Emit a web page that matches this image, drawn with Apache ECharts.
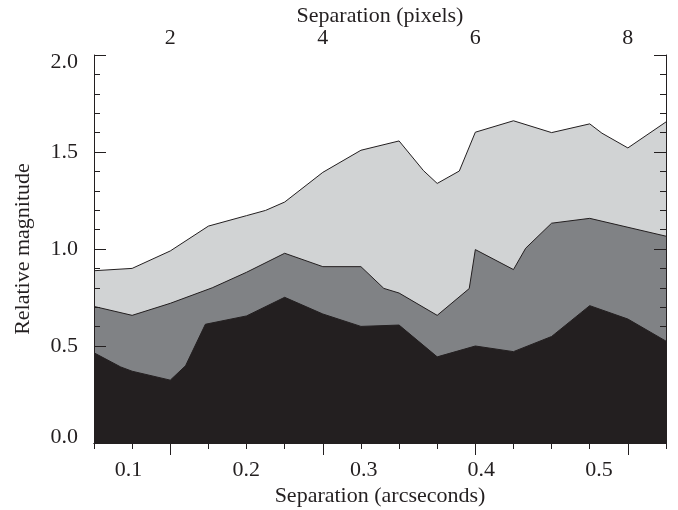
<!DOCTYPE html>
<html>
<head>
<meta charset="utf-8">
<script src="https://cdn.jsdelivr.net/npm/echarts@6/dist/echarts.min.js"></script>
<style>
html,body{margin:0;padding:0;background:#fff;}
#chart{width:678px;height:510px;}
</style>
</head>
<body>
<div id="chart"></div>
<script>
// Separation in pixels (top axis) vs relative magnitude
var upperCurve = [[1.0,0.888],[1.5,0.90],[2.0,0.99],[2.5,1.118],[3.0,1.172],[3.25,1.199],[3.5,1.242],[4.0,1.395],[4.5,1.509],[5.0,1.557],[5.32,1.404],[5.5,1.338],[5.79,1.402],[6.0,1.602],[6.5,1.661],[7.0,1.60],[7.5,1.645],[7.66,1.597],[8.0,1.521],[8.5,1.655]];
var middleCurve = [[1.0,0.704],[1.5,0.658],[2.0,0.72],[2.55,0.80],[3.0,0.88],[3.5,0.978],[4.0,0.909],[4.5,0.909],[4.8,0.797],[5.0,0.773],[5.5,0.658],[5.92,0.796],[6.0,0.997],[6.5,0.894],[6.66,1.004],[7.0,1.133],[7.5,1.158],[8.5,1.066]];
var lowerCurve = [[1.0,0.465],[1.35,0.392],[1.5,0.37],[2.0,0.324],[2.2,0.398],[2.46,0.612],[3.0,0.655],[3.5,0.751],[4.0,0.665],[4.5,0.601],[5.0,0.608],[5.5,0.444],[6.0,0.50],[6.5,0.471],[7.0,0.549],[7.5,0.708],[8.0,0.639],[8.5,0.525]];
var arcsecTicks = [0.1,0.2,0.3,0.4,0.5];
var pixelTicks = [2,4,6,8];
var arcsecRange = [0.0706, 0.557];
var pixelRange = [1.0, 8.5];
var magRange = [0, 2];

var FONT = 'Liberation Serif';
var FS = 22;
var INK = '#231f20';
var chart = echarts.init(document.getElementById('chart'), null, {renderer:'canvas'});
var gridRect = {left:94, right:12, top:55, bottom:67, containLabel:false, outerBoundsMode:'none'};
var txt = {fontFamily:FONT, fontSize:FS, color:INK};

var option = {
  backgroundColor:'#fff',
  animation:false,
  grid:[Object.assign({}, gridRect), Object.assign({}, gridRect)],
  xAxis:[
    {gridIndex:0, type:'value', position:'bottom', min:arcsecRange[0], max:arcsecRange[1], z:10,
     axisLine:{show:true, lineStyle:{color:INK, width:1}},
     axisTick:{show:true, inside:true, length:12, customValues:arcsecTicks, lineStyle:{color:INK}},
     axisLabel:{show:true, customValues:arcsecTicks, margin:16, formatter:function(v){return v.toFixed(1);}, fontFamily:FONT, fontSize:FS, color:INK},
     splitLine:{show:false},
     name:'Separation (arcseconds)', nameLocation:'middle', nameGap:42, nameMoveOverlap:false, nameTextStyle:txt},
    {gridIndex:0, type:'value', position:'top', min:pixelRange[0], max:pixelRange[1], z:10,
     axisLine:{show:true, lineStyle:{color:INK, width:1}},
     axisTick:{show:true, inside:true, length:12, customValues:pixelTicks, lineStyle:{color:INK}},
     axisLabel:{show:true, customValues:pixelTicks, margin:6, fontFamily:FONT, fontSize:FS, color:INK},
     splitLine:{show:false},
     name:'Separation (pixels)', nameLocation:'middle', nameGap:28, nameMoveOverlap:false, nameTextStyle:txt},
    {gridIndex:1, type:'value', position:'top', min:pixelRange[0], max:pixelRange[1], interval:0.5, z:10,
     axisLine:{show:false},
     axisTick:{show:true, inside:true, length:6, lineStyle:{color:INK}},
     axisLabel:{show:false}, splitLine:{show:false}}
  ],
  yAxis:[
    {gridIndex:0, type:'value', position:'left', min:magRange[0], max:magRange[1], interval:0.5, z:10,
     axisLine:{show:true, lineStyle:{color:INK, width:1}},
     axisTick:{show:true, inside:true, length:12, lineStyle:{color:INK}},
     minorTick:{show:true, splitNumber:5, length:6, lineStyle:{color:INK}},
     axisLabel:{show:true, margin:16, fontFamily:FONT, fontSize:FS, color:INK,
       formatter:function(v){
         var s = v.toFixed(1);
         if (v >= magRange[1]) return '{t|' + s + '}';
         if (v <= magRange[0]) return '{b|' + s + '}';
         return s;
       },
       rich:{
         t:{fontFamily:FONT, fontSize:FS, color:INK, padding:[14,0,0,0]},
         b:{fontFamily:FONT, fontSize:FS, color:INK, padding:[0,0,12,0]}
       }},
     splitLine:{show:false},
     name:'Relative magnitude', nameLocation:'middle', nameGap:60, nameMoveOverlap:false, nameRotate:90, nameTextStyle:txt},
    {gridIndex:0, type:'value', position:'right', min:magRange[0], max:magRange[1], interval:0.5, z:10,
     axisLine:{show:true, lineStyle:{color:INK, width:1}},
     axisTick:{show:true, inside:true, length:12, lineStyle:{color:INK}},
     minorTick:{show:true, splitNumber:5, length:6, lineStyle:{color:INK}},
     axisLabel:{show:false}, splitLine:{show:false}},
    {gridIndex:1, type:'value', min:magRange[0], max:magRange[1], show:false}
  ],
  series:[
    {type:'line', xAxisIndex:1, yAxisIndex:0, data:upperCurve, symbol:'none', z:2,
     lineStyle:{color:INK, width:1}, areaStyle:{color:'#d1d3d4', opacity:1, origin:'start'}},
    {type:'line', xAxisIndex:1, yAxisIndex:0, data:middleCurve, symbol:'none', z:3,
     lineStyle:{color:INK, width:1}, areaStyle:{color:'#808285', opacity:1, origin:'start'}},
    {type:'line', xAxisIndex:1, yAxisIndex:0, data:lowerCurve, symbol:'none', z:4,
     lineStyle:{color:INK, width:1}, areaStyle:{color:INK, opacity:1, origin:'start'}}
  ]
};
chart.setOption(option);
</script>
</body>
</html>
